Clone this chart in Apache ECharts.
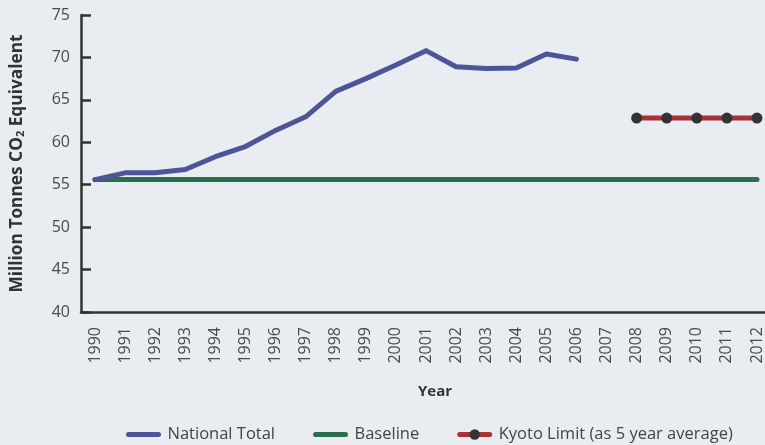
<!DOCTYPE html>
<html><head><meta charset="utf-8">
<script src="https://cdn.jsdelivr.net/npm/echarts@6/dist/echarts.min.js"></script>
<style>html,body{margin:0;padding:0;background:#E9ECF1;}#c{width:765px;height:445px;}</style>
</head><body><div id="c"></div>
<script>
const years = ['1990','1991','1992','1993','1994','1995','1996','1997','1998','1999','2000','2001','2002','2003','2004','2005','2006','2007','2008','2009','2010','2011','2012'];
const nationalTotal = [55.6,56.4,56.4,56.8,58.3,59.5,61.4,63.0,66.0,67.5,69.1,70.8,68.9,68.7,68.75,70.4,69.8,null,null,null,null,null,null];
const baseline = [55.6,55.6,55.6,55.6,55.6,55.6,55.6,55.6,55.6,55.6,55.6,55.6,55.6,55.6,55.6,55.6,55.6,55.6,55.6,55.6,55.6,55.6,55.6];
const kyotoLimit = [null,null,null,null,null,null,null,null,null,null,null,null,null,null,null,null,null,null,62.85,62.85,62.85,62.85,62.85];
const yTicks = {min:40, max:75, interval:5};

const font = '"Open Sans", "Noto Sans", sans-serif';
const hidden = {color:'rgba(0,0,0,0)', borderWidth:0, opacity:0};
const chart = echarts.init(document.getElementById('c'));
chart.setOption({
  backgroundColor:'#E9ECF1',
  animation:false,
  grid:[
    {left:95, right:8, top:15, bottom:133},
    {left:81, right:0, top:15, bottom:133}
  ],
  xAxis:[
    {type:'category', gridIndex:0, data:years, boundaryGap:false,
     axisLine:{show:false}, axisTick:{show:false},
     axisLabel:{rotate:90, fontSize:16, color:'#4a4a4a', fontFamily:font, margin:15},
     name:'Year', nameLocation:'middle', nameGap:72,
     nameTextStyle:{fontSize:15, fontWeight:'bold', color:'#333', fontFamily:font, padding:[0,0,0,18]}},
    {type:'value', gridIndex:1, min:0, max:1,
     axisLine:{show:true, lineStyle:{color:'#333', width:2.5}}, axisTick:{show:false},
     axisLabel:{show:false}, splitLine:{show:false}}
  ],
  yAxis:[
    {type:'value', gridIndex:0, min:yTicks.min, max:yTicks.max, interval:yTicks.interval,
     show:false},
    {type:'value', gridIndex:1, min:yTicks.min, max:yTicks.max, interval:yTicks.interval,
     axisLine:{show:true, lineStyle:{color:'#333', width:2.5}},
     axisTick:{show:true, inside:true, length:10, lineStyle:{color:'#333', width:2.5}},
     axisLabel:{fontSize:16, color:'#4a4a4a', fontFamily:font, margin:11},
     splitLine:{show:false},
     name:'Million Tonnes CO{sub|2} Equivalent', nameLocation:'middle', nameGap:55,
     nameTextStyle:{fontSize:17.3, fontWeight:'bold', color:'#333', fontFamily:font,
       rich:{sub:{fontSize:11, fontWeight:'bold', color:'#333', fontFamily:font, verticalAlign:'bottom', padding:[7,0,0,0]}}}}
  ],
  legend:{
    bottom:2, left:126, padding:0, itemGap:38, itemWidth:30, itemHeight:13,
    textStyle:{fontSize:16.5, color:'#444', fontFamily:font, padding:[0,0,0,4]},
    lineStyle:{width:5, cap:'round'},
    data:[
      {name:'National Total', itemStyle:hidden},
      {name:'Baseline', itemStyle:hidden},
      {name:'Kyoto Limit (as 5 year average)'}
    ]
  },
  series:[
    {name:'Baseline', type:'line', xAxisIndex:0, yAxisIndex:0, data:baseline, symbol:'none',
     lineStyle:{color:'#2A6E4E', width:5, cap:'round'}, itemStyle:{color:'#2A6E4E'}, z:2},
    {name:'National Total', type:'line', xAxisIndex:0, yAxisIndex:0, data:nationalTotal, symbol:'none',
     lineStyle:{color:'#4D5598', width:5, cap:'round', join:'round'}, itemStyle:{color:'#4D5598'}, z:3},
    {name:'Kyoto Limit (as 5 year average)', type:'line', xAxisIndex:0, yAxisIndex:0, data:kyotoLimit,
     symbol:'circle', symbolSize:11, showAllSymbol:true,
     lineStyle:{color:'#AA3134', width:5}, itemStyle:{color:'#333333', borderWidth:0}, z:4}
  ]
});
</script></body></html>
